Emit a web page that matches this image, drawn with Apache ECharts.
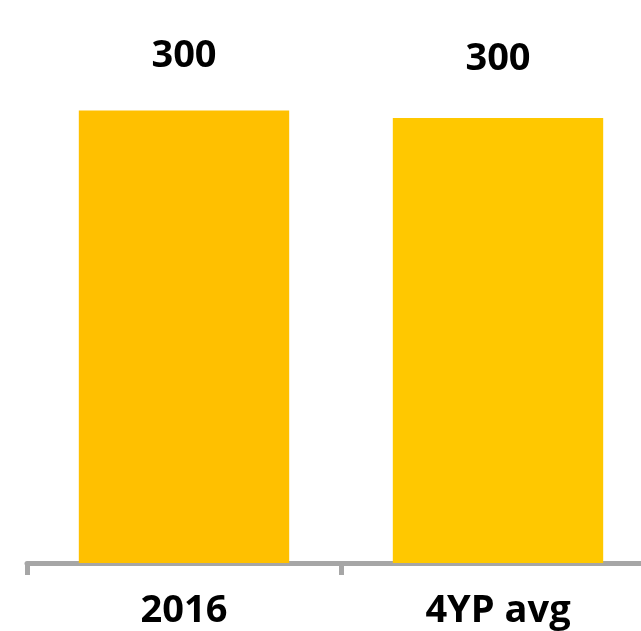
<!DOCTYPE html>
<html>
<head>
<meta charset="utf-8">
<script src="https://cdn.jsdelivr.net/npm/echarts@6/dist/echarts.min.js"></script>
<style>
  html, body { margin: 0; padding: 0; background: #fff; }
  #chart { width: 641px; height: 631px; }
</style>
</head>
<body>
<div id="chart"></div>
<script>
// data
var categories = ["2016", "4YP avg"];
var values = [304, 299];
var barColors = ["#FFC000", "#FFC800"];

var myChart = echarts.init(document.getElementById("chart"));
var option = {
  animation: false,
  grid: { left: 27, right: -14, top: 63, bottom: 68, outerBoundsMode: "none", containLabel: false },
  xAxis: {
    type: "category",
    data: categories,
    axisLine: { lineStyle: { color: "#a6a6a6", width: 5 } },
    axisTick: { show: true, length: 12, lineStyle: { color: "#a6a6a6", width: 5 } },
    axisLabel: {
      margin: 29,
      color: "#000",
      fontSize: 38,
      fontWeight: "bold",
      fontFamily: "Open Sans"
    }
  },
  yAxis: {
    type: "value",
    min: 0,
    max: 336,
    show: false,
    splitLine: { show: false }
  },
  series: [
    {
      type: "bar",
      barCategoryGap: "33%",
      data: values.map(function (v, i) {
        // second label sits a bit further above its bar in the original
        return {
          value: v,
          itemStyle: { color: barColors[i] },
          label: { distance: i === 0 ? 35 : 40 }
        };
      }),
      label: {
        show: true,
        position: "top",
        color: "#000",
        fontSize: 38,
        fontWeight: "bold",
        fontFamily: "Open Sans",
        formatter: function (p) {
          return Math.round(p.value / 10) * 10;
        }
      }
    }
  ]
};
option && myChart.setOption(option);
</script>
</body>
</html>
